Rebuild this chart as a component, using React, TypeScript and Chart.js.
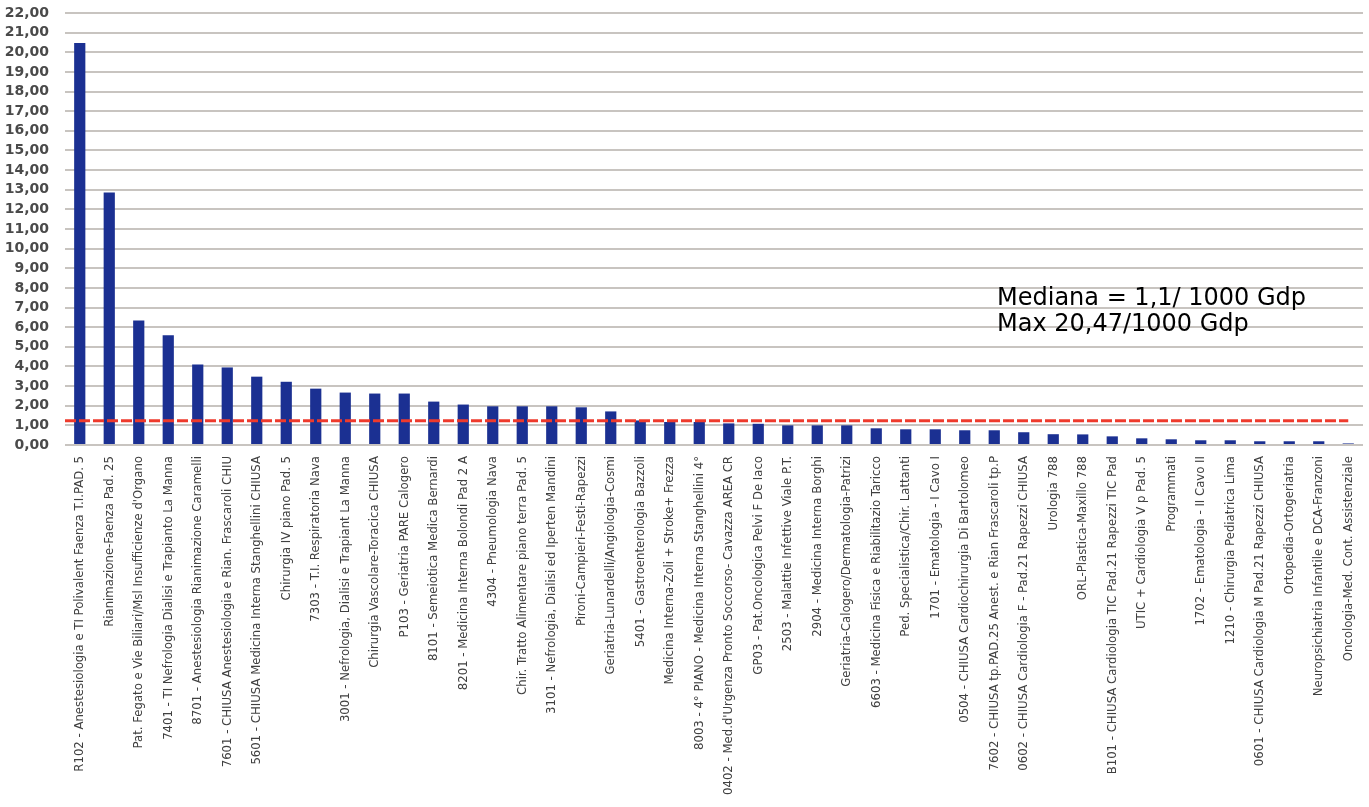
import React, { useEffect, useRef } from "react";
import { Chart, registerables } from "chart.js";

Chart.register(...registerables);

const categories: string[] = [
  "R102 - Anestesiologia e TI Polivalent Faenza T.I.PAD. 5",
  "Rianimazione-Faenza Pad. 25",
  "Pat. Fegato e Vie Biliari/Msl Insufficienze d'Organo",
  "7401 - TI Nefrologia Dialisi e Trapianto La Manna",
  "8701 - Anestesiologia Rianimazione Caramelli",
  "7601 - CHIUSA Anestesiologia e Rian. Frascaroli CHIU",
  "5601 - CHIUSA Medicina Interna Stanghellini CHIUSA",
  "Chirurgia IV piano Pad. 5",
  "7303 - T.I. Respiratoria Nava",
  "3001 - Nefrologia, Dialisi e Trapiant La Manna",
  "Chirurgia Vascolare-Toracica CHIUSA",
  "P103 - Geriatria PARE Calogero",
  "8101 - Semeiotica Medica Bernardi",
  "8201 - Medicina Interna Bolondi Pad 2 A",
  "4304 - Pneumologia Nava",
  "Chir. Tratto Alimentare piano terra Pad. 5",
  "3101 - Nefrologia, Dialisi ed Iperten Mandini",
  "Pironi-Campieri-Festi-Rapezzi",
  "Geriatria-Lunardelli/Angiologia-Cosmi",
  "5401 - Gastroenterologia Bazzoli",
  "Medicina Interna-Zoli + Stroke+ Frezza",
  "8003 - 4° PIANO - Medicina Interna Stanghellini 4°",
  "0402 - Med.d'Urgenza Pronto Soccorso- Cavazza AREA CR",
  "GP03 - Pat.Oncologica Pelvi F De Iaco",
  "2503 - Malattie Infettive Viale P.T.",
  "2904 - Medicina Interna Borghi",
  "Geriatria-Calogero/Dermatologia-Patrizi",
  "6603 - Medicina Fisica e Riabilitazio Taricco",
  "Ped. Specialistica/Chir. Lattanti",
  "1701 - Ematologia - I Cavo I",
  "0504 - CHIUSA Cardiochirurgia Di Bartolomeo",
  "7602 - CHIUSA tp.PAD.25 Anest. e Rian Frascaroli tp.P",
  "0602 - CHIUSA Cardiologia F - Pad.21 Rapezzi CHIUSA",
  "Urologia 788",
  "ORL-Plastica-Maxillo 788",
  "B101 - CHIUSA Cardiologia TIC Pad.21 Rapezzi TIC Pad",
  "UTIC + Cardiologia V p Pad. 5",
  "Programmati",
  "1702 - Ematologia - II Cavo II",
  "1210 - Chirurgia Pediatrica Lima",
  "0601 - CHIUSA Cardiologia M Pad.21 Rapezzi CHIUSA",
  "Ortopedia-Ortogeriatria",
  "Neuropsichiatria Infantile e DCA-Franzoni",
  "Oncologia-Med. Cont. Assistenziale",
];

const values: number[] = [
  20.47, 12.86, 6.34, 5.59, 4.1, 3.95, 3.48, 3.22, 2.87, 2.67, 2.62, 2.62,
  2.21, 2.06, 1.97, 1.97, 1.97, 1.92, 1.71, 1.25, 1.17, 1.17, 1.1, 1.08,
  1.0, 1.0, 1.0, 0.85, 0.8, 0.8, 0.75, 0.75, 0.65, 0.55, 0.54, 0.44, 0.34,
  0.29, 0.24, 0.24, 0.19, 0.19, 0.19, 0.08,
];

const yMin = 0;
const yMax = 22;
const yStep = 1;
const medianLineValue = 1.24;
const annotationLines: string[] = ["Mediana = 1,1/ 1000 Gdp", "Max 20,47/1000 Gdp"];

const medianPlugin = {
  id: "medianLine",
  afterDatasetsDraw(chart: any) {
    const { ctx, chartArea, scales } = chart;
    const y = scales.y.getPixelForValue(medianLineValue);
    const xEnd = scales.x.getPixelForValue(categories.length - 1);
    ctx.save();
    ctx.strokeStyle = "#ee3a2c";
    ctx.lineWidth = 3;
    ctx.setLineDash([11, 3]);
    ctx.beginPath();
    ctx.moveTo(chartArea.left, y);
    ctx.lineTo(xEnd, y);
    ctx.stroke();
    ctx.restore();
  },
};

const annotationPlugin = {
  id: "textNote",
  afterDraw(chart: any) {
    const { ctx } = chart;
    ctx.save();
    ctx.fillStyle = "#000000";
    ctx.font = "24px 'DejaVu Sans'";
    ctx.textBaseline = "alphabetic";
    ctx.textAlign = "left";
    ctx.fillText(annotationLines[0], 997, 305);
    ctx.fillText(annotationLines[1], 997, 331);
    ctx.restore();
  },
};

export default function App() {
  const ref = useRef<HTMLCanvasElement | null>(null);

  useEffect(() => {
    if (!ref.current) return;
    const chart = new Chart(ref.current, {
      type: "bar",
      data: {
        labels: categories,
        datasets: [
          {
            data: values,
            backgroundColor: "#1b3092",
            borderWidth: 0,
            categoryPercentage: 1,
            barPercentage: 0.38,
          },
        ],
      },
      options: {
        responsive: false,
        animation: false,
        devicePixelRatio: 1,
        layout: { padding: { top: 0, right: 6, left: 0, bottom: 0 } },
        plugins: {
          legend: { display: false },
          tooltip: { enabled: false },
        },
        scales: {
          x: {
            grid: { display: false },
            border: { display: false },
            ticks: {
              autoSkip: false,
              minRotation: 90,
              maxRotation: 90,
              color: "#404040",
              font: { family: "'Liberation Sans Narrow', 'DejaVu Sans Condensed', 'Liberation Sans'", size: 13 },
              padding: 3,
            },
            afterFit: (s: any) => {
              s.height = 362;
            },
          },
          y: {
            min: yMin,
            max: yMax,
            ticks: {
              autoSkip: false,
              stepSize: yStep,
              color: "#4a4a4a",
              padding: 16,
              font: { family: "'DejaVu Sans'", size: 14, weight: "bold" },
              callback: (v: any) => Number(v).toFixed(2).replace(".", ","),
            },
            grid: { color: "#c8c4c0", lineWidth: 2, drawTicks: false },
            border: { display: false },
            afterFit: (s: any) => {
              s.width = 65;
              s.paddingTop = 13;
              s.paddingBottom = 0;
            },
          },
        },
      },
      plugins: [medianPlugin, annotationPlugin],
    });
    return () => chart.destroy();
  }, []);

  return (
    <div style={{ position: "fixed", left: 0, top: 0, width: 1369, height: 807, background: "#fff" }}>
      <canvas ref={ref} width={1369} height={807} />
    </div>
  );
}
